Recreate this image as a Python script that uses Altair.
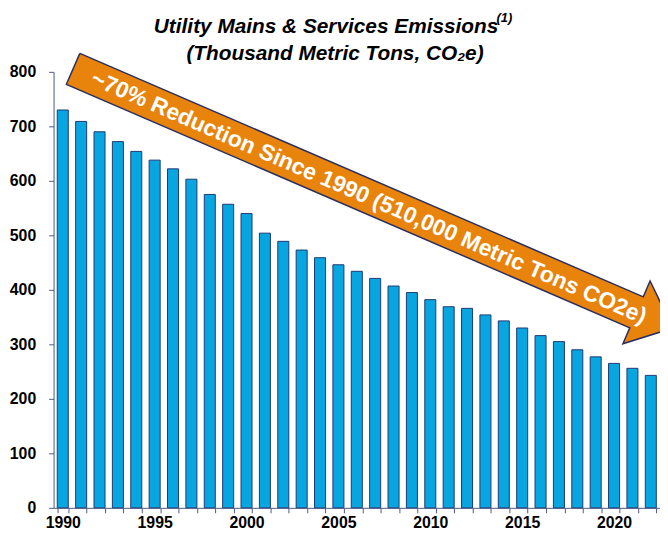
import altair as alt
import pandas as pd

# ---- data ----
years = [1990, 1991, 1992, 1993, 1994, 1995, 1996, 1997, 1998, 1999,
         2000, 2001, 2002, 2003, 2004, 2005, 2006, 2007, 2008, 2009,
         2010, 2011, 2012, 2013, 2014, 2015, 2016, 2017, 2018, 2019,
         2020, 2021, 2022]
emissions = [730, 709, 690, 672, 654, 638, 622, 603, 575, 557,
             540, 504, 489, 473, 459, 446, 434, 421, 407, 395,
             382, 369, 366, 354, 343, 330, 316, 305, 290, 277,
             265, 256, 243]
y_ticks = [0, 100, 200, 300, 400, 500, 600, 700, 800]
title_lines = ["Utility Mains & Services Emissions",
               "(Thousand Metric Tons, CO\u2082e)"]
footnote_mark = "(1)"
arrow_label = "~70% Reduction Since 1990 (510,000 Metric Tons CO2e)"

# annotation positions (pixels inside the plot area)
title_x = [275, 284]
title_y = [-39, -12]
footnote_pos = [447, -54]
arrow_px_x = [26.5, 595.1, 602.0, 625.0, 574.6, 581.5, 12.9, 26.5]
arrow_px_y = [-18.6, 227.1, 211.0, 258.6, 274.4, 258.3, 12.6, -18.6]
label_pos = [318, 127]
label_angle = 23.5

FONT = "Liberation Sans"
AXIS_COLOR = "#4B5A85"

df = pd.DataFrame({"year": years, "emissions": emissions})
arrow_df = pd.DataFrame({"px": arrow_px_x, "py": arrow_px_y,
                         "i": list(range(len(arrow_px_x)))})
title_df = pd.DataFrame({"t": title_lines, "tx": title_x, "ty": title_y})
label_df = pd.DataFrame({"t": [arrow_label]})
foot_df = pd.DataFrame({"t": [footnote_mark]})

bars = alt.Chart(df).mark_bar(
    color="#07A6E0", stroke="#1F3A73", strokeWidth=1
).encode(
    x=alt.X("year:O",
            scale=alt.Scale(paddingInner=0.4, paddingOuter=0.2),
            axis=alt.Axis(title=None, labelAngle=0, tickBand="extent",
                          labelExpr="datum.value % 5 == 0 ? datum.label : ''",
                          labelOverlap=False, labelFont=FONT, labelFontSize=16,
                          labelFontWeight="bold", labelColor="black",
                          labelPadding=2, tickSize=5, tickColor=AXIS_COLOR,
                          domainColor=AXIS_COLOR, grid=False)),
    y=alt.Y("emissions:Q",
            scale=alt.Scale(domain=[0, 800], nice=False),
            axis=alt.Axis(title=None, values=y_ticks, grid=False,
                          labelFont=FONT, labelFontSize=16, labelFontWeight="bold",
                          labelColor="black", labelPadding=13, tickSize=5,
                          tickColor=AXIS_COLOR, domainColor=AXIS_COLOR)),
)

arrow = alt.Chart(arrow_df).mark_line(
    fill="#E8830C", stroke="#2B2F5E", strokeWidth=1.5, strokeJoin="miter"
).encode(
    x=alt.X("px:Q", scale=None, axis=None),
    y=alt.Y("py:Q", scale=None, axis=None),
    order=alt.Order("i:Q"),
)

label = alt.Chart(label_df).mark_text(
    font=FONT, fontSize=23, fontWeight="bold", color="white",
    angle=label_angle, align="center", baseline="middle"
).encode(
    x=alt.value(label_pos[0]),
    y=alt.value(label_pos[1]),
    text="t:N",
)

titles = alt.Chart(title_df).mark_text(
    font=FONT, fontSize=21, fontWeight="bold", fontStyle="italic",
    color="black", align="center", baseline="alphabetic"
).encode(
    x=alt.X("tx:Q", scale=None, axis=None),
    y=alt.Y("ty:Q", scale=None, axis=None),
    text="t:N",
)

footnote = alt.Chart(foot_df).mark_text(
    font=FONT, fontSize=13, fontWeight="bold", fontStyle="italic",
    color="black", align="left", baseline="middle"
).encode(
    x=alt.value(footnote_pos[0]),
    y=alt.value(footnote_pos[1]),
    text="t:N",
)

chart = alt.layer(bars, arrow, label, titles, footnote).resolve_scale(
    x="independent", y="independent"
).properties(
    width=612, height=440,
    autosize=alt.AutoSizeParams(type="none"),
    padding={"left": 46, "top": 62, "right": 0, "bottom": 26},
).configure_view(stroke=None)

chart.save("out.html", embed_options={"renderer": "svg", "actions": False})
